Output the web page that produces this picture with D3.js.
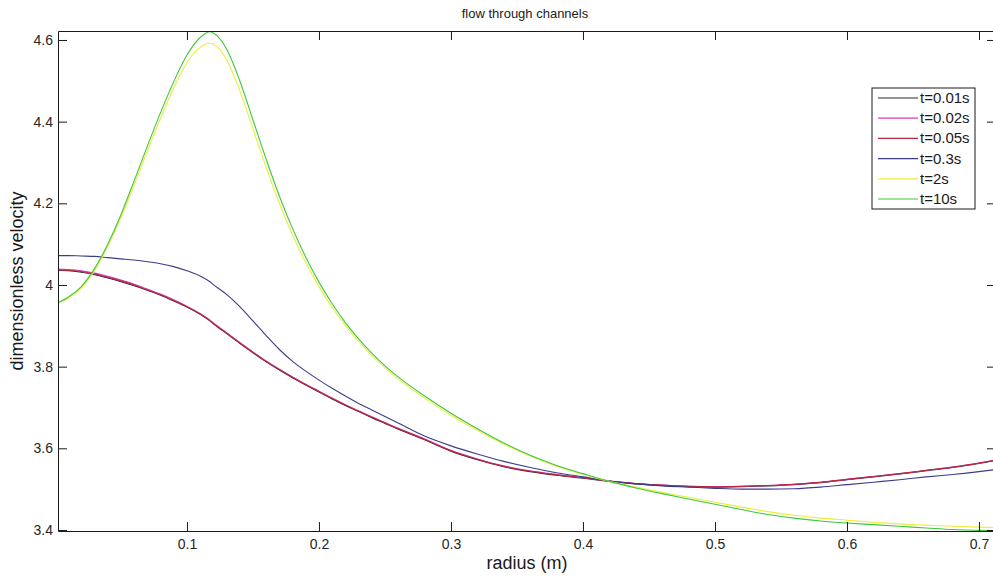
<!DOCTYPE html>
<html>
<head>
<meta charset="utf-8">
<script src="https://cdn.jsdelivr.net/npm/d3@7"></script>
<style>
  body { margin: 0; background: #fff; }
  svg { display: block; font-family: "Liberation Sans", Arial, sans-serif; }
</style>
</head>
<body>
<div id="chart"></div>
<script>
// radius grid (m) shared by every series
var radius = [0.0023, 0.01, 0.02, 0.03, 0.04, 0.05, 0.06, 0.07, 0.08, 0.09, 0.10, 0.11, 0.1174, 0.12, 0.13, 0.14, 0.15, 0.16, 0.17, 0.18, 0.19, 0.20,
  0.21, 0.22, 0.23, 0.24, 0.25, 0.26, 0.28, 0.30, 0.32, 0.34, 0.36, 0.38, 0.40, 0.42, 0.44, 0.46, 0.48, 0.50,
  0.52, 0.54, 0.56, 0.58, 0.60, 0.62, 0.64, 0.66, 0.68, 0.70, 0.7125];

var vel001 = [4.036, 4.035, 4.031, 4.025, 4.017, 4.008, 3.998, 3.987, 3.975, 3.961, 3.946, 3.928, 3.912, 3.905, 3.881, 3.857, 3.834, 3.812, 3.792, 3.773, 3.755, 3.738,
  3.721, 3.705, 3.690, 3.675, 3.661, 3.647, 3.621, 3.593, 3.572, 3.555, 3.543, 3.534, 3.527, 3.519, 3.513, 3.509, 3.506, 3.505,
  3.506, 3.508, 3.511, 3.516, 3.523, 3.530, 3.537, 3.545, 3.553, 3.563, 3.570];
var vel002 = [4.039, 4.038, 4.035, 4.029, 4.021, 4.012, 4.002, 3.990, 3.978, 3.964, 3.948, 3.930, 3.914, 3.907, 3.883, 3.859, 3.836, 3.814, 3.794, 3.775, 3.757, 3.740,
  3.723, 3.707, 3.692, 3.677, 3.663, 3.649, 3.623, 3.595, 3.574, 3.557, 3.545, 3.536, 3.528, 3.520, 3.514, 3.510, 3.507, 3.506,
  3.507, 3.509, 3.512, 3.517, 3.524, 3.531, 3.538, 3.546, 3.554, 3.564, 3.571];
var vel005 = [4.037, 4.036, 4.033, 4.027, 4.019, 4.010, 4.000, 3.988, 3.976, 3.962, 3.947, 3.929, 3.913, 3.906, 3.882, 3.858, 3.835, 3.813, 3.793, 3.774, 3.756, 3.739,
  3.722, 3.706, 3.691, 3.676, 3.662, 3.648, 3.622, 3.594, 3.573, 3.556, 3.544, 3.535, 3.528, 3.520, 3.514, 3.510, 3.507, 3.506,
  3.507, 3.509, 3.512, 3.517, 3.524, 3.531, 3.538, 3.546, 3.554, 3.564, 3.571];
var vel03 = [4.072, 4.072, 4.071, 4.070, 4.067, 4.064, 4.061, 4.057, 4.052, 4.045, 4.035, 4.022, 4.008, 4.001, 3.977, 3.947, 3.912, 3.876, 3.842, 3.813, 3.789, 3.767,
  3.747, 3.728, 3.710, 3.694, 3.678, 3.662, 3.630, 3.606, 3.586, 3.568, 3.553, 3.540, 3.530, 3.520, 3.513, 3.508, 3.505, 3.502,
  3.500, 3.500, 3.501, 3.505, 3.511, 3.517, 3.523, 3.530, 3.536, 3.543, 3.548];
var vel2 = [3.955, 3.968, 3.993, 4.035, 4.095, 4.165, 4.245, 4.328, 4.408, 4.483, 4.545, 4.582, 4.592, 4.590, 4.552, 4.476, 4.382, 4.288, 4.200, 4.122, 4.055, 3.996,
  3.945, 3.901, 3.862, 3.828, 3.797, 3.770, 3.723, 3.681, 3.644, 3.610, 3.581, 3.556, 3.536, 3.519, 3.505, 3.492, 3.480, 3.468,
  3.456, 3.445, 3.436, 3.429, 3.424, 3.419, 3.415, 3.412, 3.409, 3.407, 3.406];
var vel10 = [3.957, 3.970, 3.996, 4.040, 4.100, 4.172, 4.255, 4.340, 4.422, 4.498, 4.563, 4.606, 4.620, 4.617, 4.578, 4.500, 4.404, 4.308, 4.218, 4.138, 4.068, 4.007,
  3.954, 3.908, 3.868, 3.833, 3.802, 3.775, 3.728, 3.686, 3.648, 3.613, 3.583, 3.558, 3.538, 3.519, 3.503, 3.489, 3.476, 3.463,
  3.450, 3.438, 3.429, 3.422, 3.417, 3.413, 3.409, 3.405, 3.401, 3.399, 3.397];

var seriesNames = ["t=0.01s", "t=0.02s", "t=0.05s", "t=0.3s", "t=2s", "t=10s"];
var seriesValues = [vel001, vel002, vel005, vel03, vel2, vel10];
var seriesColors = ["#2a2a2a", "#d43cc8", "#b8283c", "#3c3c8c", "#ecec3c", "#3cc83c"];

var xTicks = [0.1, 0.2, 0.3, 0.4, 0.5, 0.6, 0.7];
var yTicks = [3.4, 3.6, 3.8, 4, 4.2, 4.4, 4.6];
var yTickLabels = ["3.4", "3.6", "3.8", "4", "4.2", "4.4", "4.6"];

var W = 993, H = 581;
var padL = 58, padR = 996, padT = 31, padB = 531;

var x = d3.scaleLinear().domain([0.0023, 0.7129]).range([padL, padR]);
var y = d3.scaleLinear().domain([3.3975, 4.622]).range([padB, padT]);

var svg = d3.select("#chart").append("svg").attr("width", W).attr("height", H);

svg.append("defs").append("clipPath").attr("id", "plotclip")
  .append("rect").attr("x", padL).attr("y", padT).attr("width", padR - padL).attr("height", padB - padT);

// curves
var line = d3.line()
  .x(function(d) { return x(d[0]); })
  .y(function(d) { return y(d[1]); })
  .curve(d3.curveMonotoneX);

var plot = svg.append("g").attr("clip-path", "url(#plotclip)");
for (var s = 0; s < seriesValues.length; s++) {
  var pts = radius.map(function(r, i) { return [r, seriesValues[s][i]]; });
  plot.append("path")
    .attr("d", line(pts))
    .attr("fill", "none")
    .attr("stroke", seriesColors[s])
    .attr("stroke-width", 1.1);
}

// axes, MATLAB box style with inward ticks
function styleAxis(g) {
  g.selectAll("path").attr("stroke", "#1a1a1a");
  g.selectAll("line").attr("stroke", "#1a1a1a");
  g.selectAll("text").attr("fill", "#262626").style("font-size", "14px").style("font-family", "Liberation Sans, Arial, sans-serif");
}

svg.append("g").attr("transform", "translate(0," + padB + ")")
  .call(d3.axisBottom(x).tickValues(xTicks).tickSizeInner(-9).tickSizeOuter(0).tickPadding(8).tickFormat(d3.format("")))
  .call(styleAxis);
svg.append("g").attr("transform", "translate(0," + padT + ")")
  .call(d3.axisTop(x).tickValues(xTicks).tickSizeInner(-9).tickSizeOuter(0).tickFormat(""))
  .call(styleAxis);
svg.append("g").attr("transform", "translate(" + padL + ",0)")
  .call(d3.axisLeft(y).tickValues(yTicks).tickSizeInner(-9).tickSizeOuter(0).tickPadding(5)
    .tickFormat(function(d, i) { return yTickLabels[i]; }))
  .call(styleAxis);
svg.append("g").attr("transform", "translate(" + padR + ",0)")
  .call(d3.axisRight(y).tickValues(yTicks).tickSizeInner(-9).tickSizeOuter(0).tickFormat(""))
  .call(styleAxis);

// titles
svg.append("text").attr("x", (padL + padR) / 2 - 2).attr("y", 18)
  .attr("text-anchor", "middle").style("font-size", "13px").attr("fill", "#1a1a1a")
  .text("flow through channels");
svg.append("text").attr("x", (padL + padR) / 2).attr("y", 569)
  .attr("text-anchor", "middle").style("font-size", "18px").attr("fill", "#1a1a1a")
  .text("radius (m)");
svg.append("text").attr("transform", "translate(23," + ((padT + padB) / 2) + ") rotate(-90)")
  .attr("text-anchor", "middle").style("font-size", "18px").attr("fill", "#1a1a1a")
  .text("dimensionless velocity");

// legend
var lg = svg.append("g");
lg.append("rect").attr("x", 872).attr("y", 88).attr("width", 103).attr("height", 121)
  .attr("fill", "#fff").attr("stroke", "#1a1a1a").attr("stroke-width", 1);
var rowY = d3.scaleLinear().domain([0, 5]).range([98, 199]);
seriesNames.forEach(function(name, i) {
  lg.append("line").attr("x1", 878).attr("x2", 918).attr("y1", rowY(i)).attr("y2", rowY(i))
    .attr("stroke", seriesColors[i]).attr("stroke-width", 1.2);
  lg.append("text").attr("x", 920).attr("y", rowY(i) + 5).style("font-size", "15px")
    .attr("fill", "#1a1a1a").text(name);
});
</script>
</body>
</html>
